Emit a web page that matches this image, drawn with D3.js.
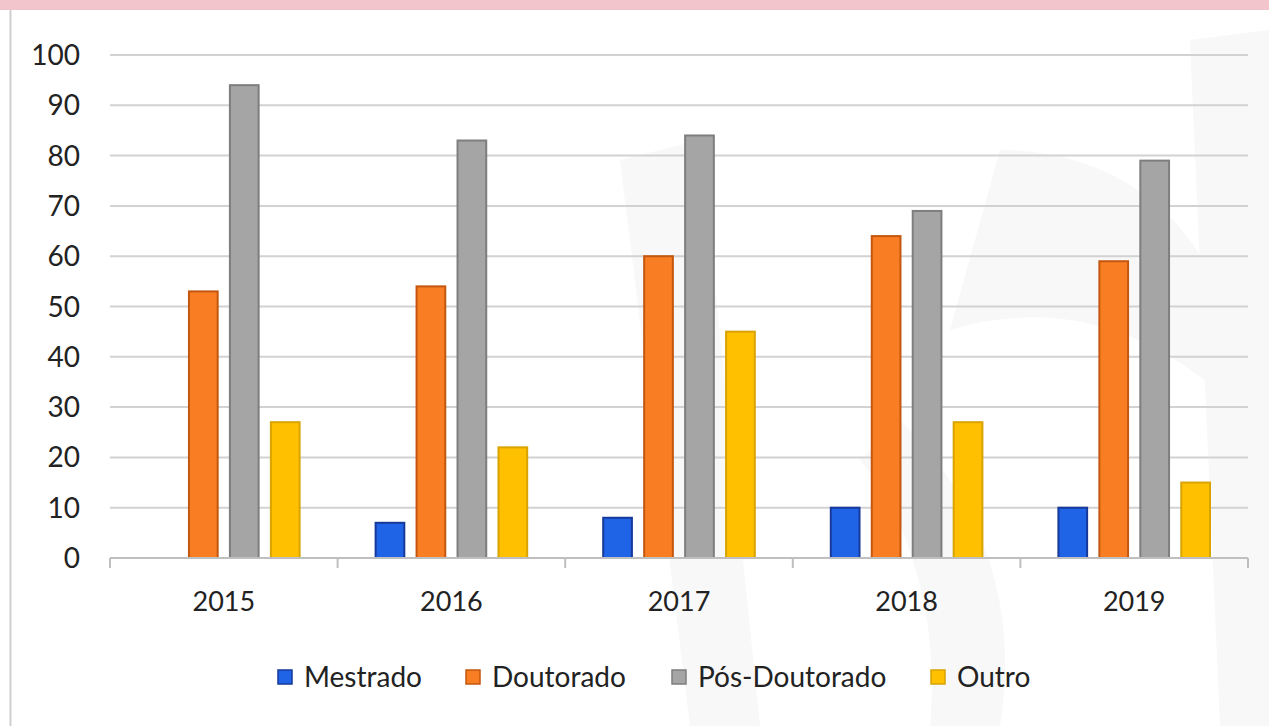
<!DOCTYPE html>
<html lang="pt">
<head>
<meta charset="utf-8" />
<script src="https://cdn.jsdelivr.net/npm/d3@7"></script>
<style>
  html, body { margin: 0; padding: 0; background: #fff; }
  svg { display: block; font-family: Lato, "Open Sans", sans-serif; }
</style>
</head>
<body>
<svg id="chart" width="1269" height="726"></svg>
<script>
// data
var years = ["2015", "2016", "2017", "2018", "2019"];
var seriesNames = ["Mestrado", "Doutorado", "Pós-Doutorado", "Outro"];
var mestrado = [0, 7, 8, 10, 10];
var doutorado = [53, 54, 60, 64, 59];
var posDoutorado = [94, 83, 84, 69, 79];
var outro = [27, 22, 45, 27, 15];
var yTicks = [0, 10, 20, 30, 40, 50, 60, 70, 80, 90, 100];

var fills = ["#1f63e6", "#f97d22", "#a5a5a5", "#ffc000"];
var strokes = ["#17399a", "#c4570f", "#7e7e7e", "#d9a300"];

var allSeries = [mestrado, doutorado, posDoutorado, outro];

var svg = d3.select("#chart");

// pink band on top + left frame line
svg.append("rect").attr("x", 0).attr("y", 0).attr("width", 1269).attr("height", 10).attr("fill", "#f2c5cd");
svg.append("line").attr("x1", 10.5).attr("x2", 10.5).attr("y1", 10).attr("y2", 726)
  .attr("stroke", "#cfcfcf").attr("stroke-width", 2);

// faint watermark shapes
var wm = svg.append("g").attr("fill", "#f8f8f8");
wm.append("path").attr("d", "M620,160 L700,140 L760,726 L690,726 Z");
wm.append("path").attr("d", "M1000,150 C1150,150 1240,260 1250,420 C1150,320 1050,300 950,330 Z");
wm.append("path").attr("d", "M900,420 C980,500 1020,600 1000,726 L930,726 C940,620 910,520 860,460 Z");
wm.append("path").attr("d", "M1190,40 L1269,30 L1269,726 L1220,726 Z");

var x0 = d3.scaleBand().domain(years).range([110, 1248]).paddingInner(0).paddingOuter(0);
var x1 = d3.scaleBand().domain(seriesNames).range([37, x0.bandwidth() - 37]).paddingInner(0.25);
var y = d3.scaleLinear().domain([0, 100]).range([558, 55]);

// gridlines
svg.append("g").selectAll("line").data(yTicks.filter(function(d){ return d > 0; })).join("line")
  .attr("x1", 110).attr("x2", 1248)
  .attr("y1", function(d){ return y(d); }).attr("y2", function(d){ return y(d); })
  .attr("stroke", "#d2d2d2").attr("stroke-width", 2);

// y labels
svg.append("g").selectAll("text").data(yTicks).join("text")
  .attr("x", 80).attr("y", function(d){ return y(d); }).attr("dy", "0.36em")
  .attr("text-anchor", "end").attr("font-size", 28).attr("fill", "#222")
  .text(function(d){ return d; });

// bars
var groups = svg.append("g").selectAll("g").data(years).join("g")
  .attr("transform", function(d){ return "translate(" + x0(d) + ",0)"; });
groups.selectAll("rect")
  .data(function(d, i){ return seriesNames.map(function(s, k){ return {s: s, k: k, v: allSeries[k][i]}; }).filter(function(e){ return e.v > 0; }); })
  .join("rect")
  .attr("x", function(d){ return x1(d.s) + 1; })
  .attr("y", function(d){ return y(d.v); })
  .attr("width", x1.bandwidth() - 2)
  .attr("height", function(d){ return y(0) - y(d.v); })
  .attr("fill", function(d){ return fills[d.k]; })
  .attr("stroke", function(d){ return strokes[d.k]; })
  .attr("stroke-width", 2);

// x axis
var xAxis = svg.append("g");
xAxis.append("line").attr("x1", 110).attr("x2", 1248).attr("y1", 558).attr("y2", 558)
  .attr("stroke", "#bfbfbf").attr("stroke-width", 2);
var tickXs = years.map(function(d){ return x0(d); }).concat([1248]);
xAxis.selectAll("line.tick").data(tickXs).join("line").attr("class", "tick")
  .attr("x1", function(d){ return d; }).attr("x2", function(d){ return d; })
  .attr("y1", 558).attr("y2", 568).attr("stroke", "#bfbfbf").attr("stroke-width", 2);
xAxis.selectAll("text").data(years).join("text")
  .attr("x", function(d){ return x0(d) + x0.bandwidth() / 2; })
  .attr("y", 601).attr("dy", "0.36em").attr("text-anchor", "middle")
  .attr("font-size", 27).attr("fill", "#222").text(function(d){ return d; });

// legend
var legendX = [278, 466, 672, 931];
var legend = svg.append("g").selectAll("g").data(seriesNames).join("g")
  .attr("transform", function(d, i){ return "translate(" + legendX[i] + ",677)"; });
legend.append("rect").attr("x", 0).attr("y", -7).attr("width", 14).attr("height", 14)
  .attr("fill", function(d, i){ return fills[i]; })
  .attr("stroke", function(d, i){ return strokes[i]; }).attr("stroke-width", 1.5);
legend.append("text").attr("x", 26).attr("y", 0).attr("dy", "0.36em")
  .attr("font-size", 28).attr("fill", "#222").text(function(d){ return d; });
</script>
</body>
</html>
